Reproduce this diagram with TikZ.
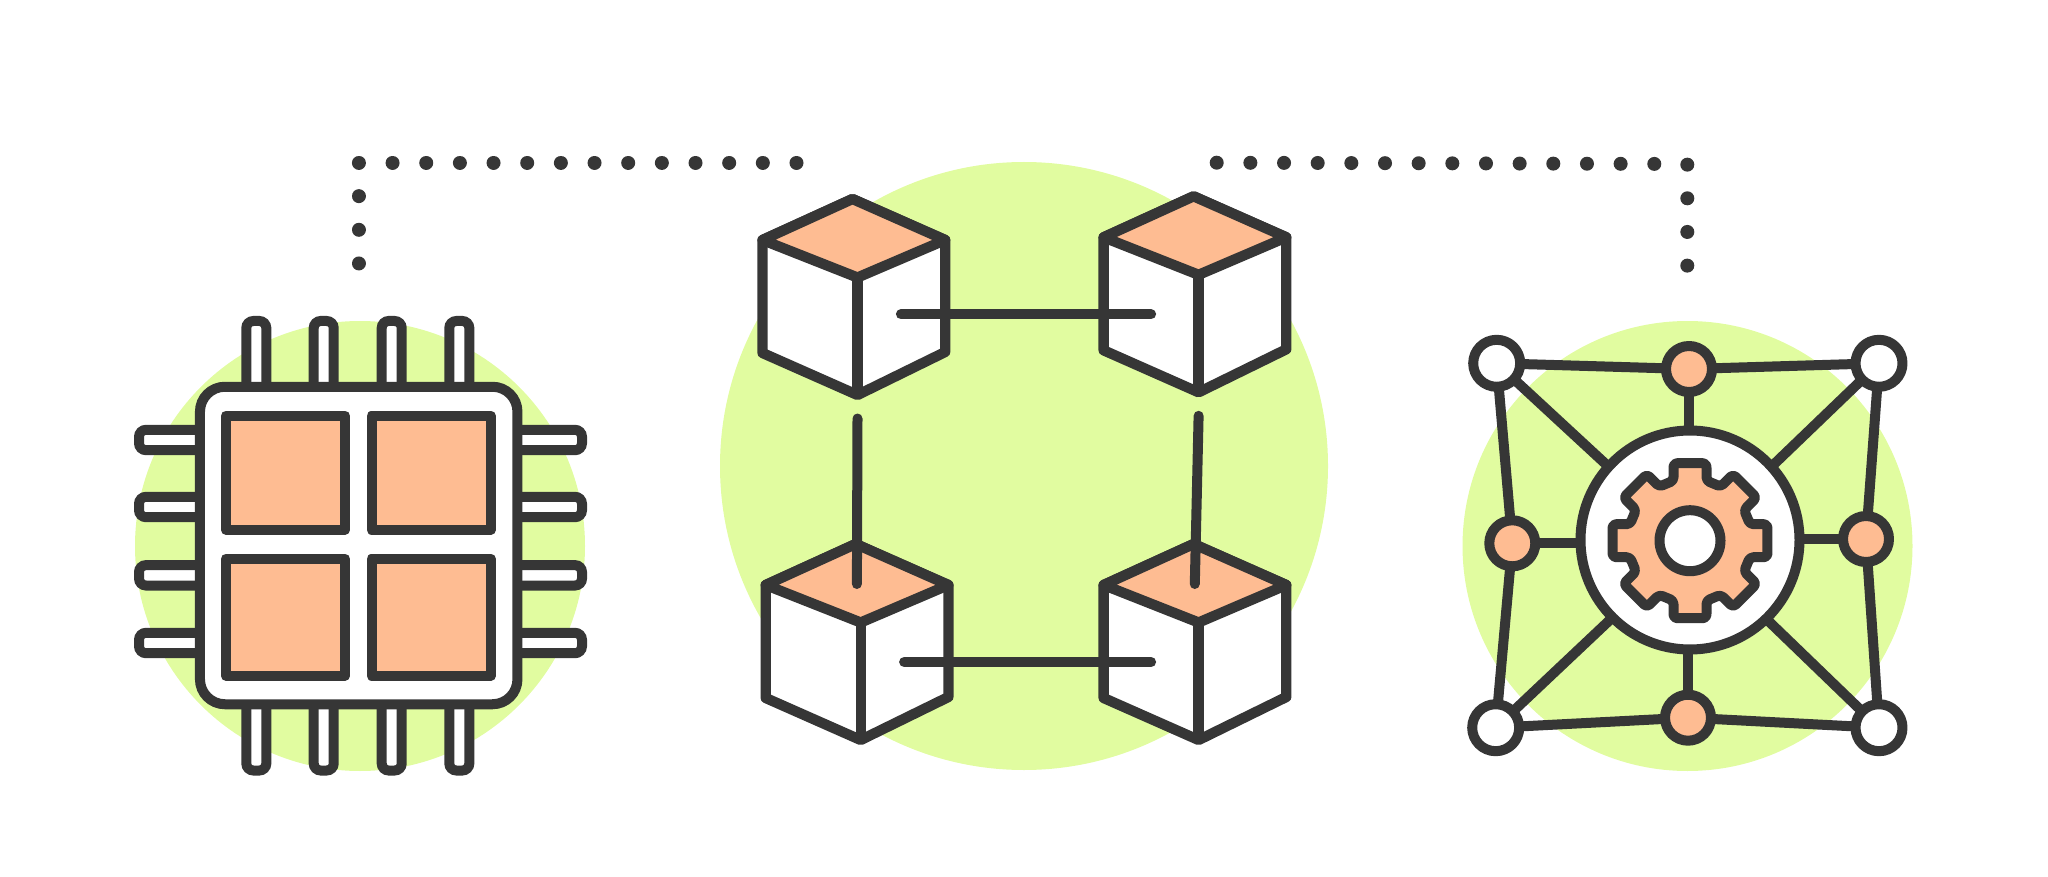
\documentclass[tikz,border=0pt]{standalone}
\definecolor{ink}{HTML}{363636}
\definecolor{lime}{HTML}{E1FCA0}
\definecolor{peach}{HTML}{FEBC92}
\tikzset{
	wire/.style = {draw=ink, line width=10pt, line join=round},
	blob/.style = {circle, fill=lime, inner sep=0pt, outer sep=0pt},
	knot/.style = {wire, circle, inner sep=0pt, outer sep=0pt, minimum size=47pt},
	pinbox/.style = {draw=ink, fill=white, line width=10pt, rounded corners=7pt},
	chipcell/.style = {draw=ink, fill=peach, line width=10pt, line join=round, inner sep=0pt, minimum width=119.3pt, minimum height=114pt},
	dotline/.style = {draw=ink, line width=14pt, line cap=round, dash pattern=on 0.01pt off 33.65pt},
	link/.style = {draw=ink, line width=10pt, line cap=round},
	cube/.pic = {
		\draw[draw=ink, fill=white, line width=10.3pt, line join=round] (0,0) -- (90,-41) -- (182.7,0) -- (182.7,112) -- (95,155) -- (0,113) -- cycle;
		\draw[draw=ink, fill=peach, line width=10.3pt, line join=round] (0,0) -- (90,-41) -- (182.7,0) -- (95,37.5) -- cycle;
		\draw[draw=ink, line width=10.3pt] (95,37.5) -- (95,155);
		\coordinate (-e) at (138.4,77);
		\coordinate (-w) at (47.5,77);
		\coordinate (-s) at (95,178.5);
		\coordinate (-n) at (91.2,-1);
	}
}
\begin{document}
\begin{tikzpicture}[x=1pt, y=-1pt, node distance={145.8pt}]
	\useasboundingbox (0,0) rectangle (2048,877);
	% backdrops
	\node[blob, minimum size=450pt] (blobl) at (360,546) {};
	\node[blob, minimum size=608pt] (blobm) at (1024,466) {};
	\node[blob, minimum size=450pt] (blobr) at (1687.5,546) {};
	% dotted routes
	\coordinate (dla) at (796.5,162.7);
	\coordinate (dlb) at (358.7,162.7);
	\coordinate (dlc) at (358.7,264.5);
	\coordinate (dra) at (1216.7,162.7);
	\coordinate (drb) at (1687.3,164);
	\coordinate (drc) at (1687.3,266);
	\draw[dotline] (dla) -- (dlb) -- (dlc);
	\draw[dotline] (dra) -- (drb) -- (drc);
	% chip
	\foreach \x in {256.3,323.7,391.7,459.3} {
		\draw[pinbox] (\x-10,321) rectangle (\x+10,400);
		\draw[pinbox] (\x-10,690) rectangle (\x+10,770.5);
	}
	\foreach \y in {440,507,575.3,643} {
		\draw[pinbox] (139,\y-10.2) rectangle (215,\y+10.2);
		\draw[pinbox] (505,\y-10.2) rectangle (582,\y+10.2);
	}
	\node[draw=ink, fill=white, line width=10pt, rounded corners=25pt, inner sep=0pt, outer sep=0pt, minimum width=317.5pt, minimum height=317.5pt] (chip) at (358.7,545.5) {};
	\node[chipcell] (cella) at (285.4,472.7) {};
	\node[chipcell] (cellb) [right of=cella] {};
	\node[chipcell, minimum height=117pt] (cellc) at (285.4,617.2) {};
	\node[chipcell, minimum height=117pt] (celld) [right of=cellc] {};
	% cubes
	\pic (cubea) at (762.5,240) {cube};
	\pic (cubeb) at (1103.6,237.3) {cube};
	\pic (cubec) at (765.7,585) {cube};
	\pic (cubed) at (1103.6,585) {cube};
	\draw[link] (cubeb-w -| cubea-e) -- (cubeb-w);
	\draw[link] (cubec-e) -- (cubed-w);
	\draw[link] (cubea-s) -- (cubec-n);
	\draw[link] (cubeb-s) -- (cubed-n);
	% network
	\node[knot, fill=white, minimum size=219pt] (netc) at (1690,540) {};
	\coordinate (gearc) at (1690,540.7);
	\draw[wire, fill=peach, rounded corners=3.5pt, shift={(gearc)}] (-22.5:61.7)
		\foreach \a in {0,45,...,315} {
			-- (\a-15.4:62.2) -- (\a-12:79.2) -- (\a+12:79.2) -- (\a+15.4:62.2)
		} -- cycle;
	\node[knot, fill=white, minimum size=61pt] (hub) at (gearc) {};
	\node[knot, fill=white] (tl) at (1496.7,363.3) {};
	\node[knot, fill=white] (tr) at (1879,363.3) {};
	\node[knot, fill=white] (bl) at (1495.7,727.7) {};
	\node[knot, fill=white] (br) at (1879,727.7) {};
	\node[knot, fill=peach, minimum size=46pt] (tm) at (1689,369) {};
	\node[knot, fill=peach, minimum size=46pt] (lm) at (1512.3,543.3) {};
	\node[knot, fill=peach, minimum size=46pt] (rm) at (1866,539) {};
	\node[knot, fill=peach, minimum size=46pt] (bm) at (1688,717.7) {};
	\draw[wire] (tl) -- (tm);
	\draw[wire] (tm) -- (tr);
	\draw[wire] (tr) -- (rm);
	\draw[wire] (rm) -- (br);
	\draw[wire] (br) -- (bm);
	\draw[wire] (bm) -- (bl);
	\draw[wire] (bl) -- (lm);
	\draw[wire] (lm) -- (tl);
	\draw[wire] (tm) -- (tm |- netc.north);
	\draw[wire] (rm) -- (rm -| netc.east);
	\draw[wire] (bm) -- (bm |- netc.south);
	\draw[wire] (lm) -- (lm -| netc.west);
	\draw[wire] (tl) -- (netc.138.6);
	\draw[wire] (tr) -- (netc.42);
	\draw[wire] (bl) -- (netc.225);
	\draw[wire] (br) -- (netc.-46.8);
\end{tikzpicture}
\end{document}
